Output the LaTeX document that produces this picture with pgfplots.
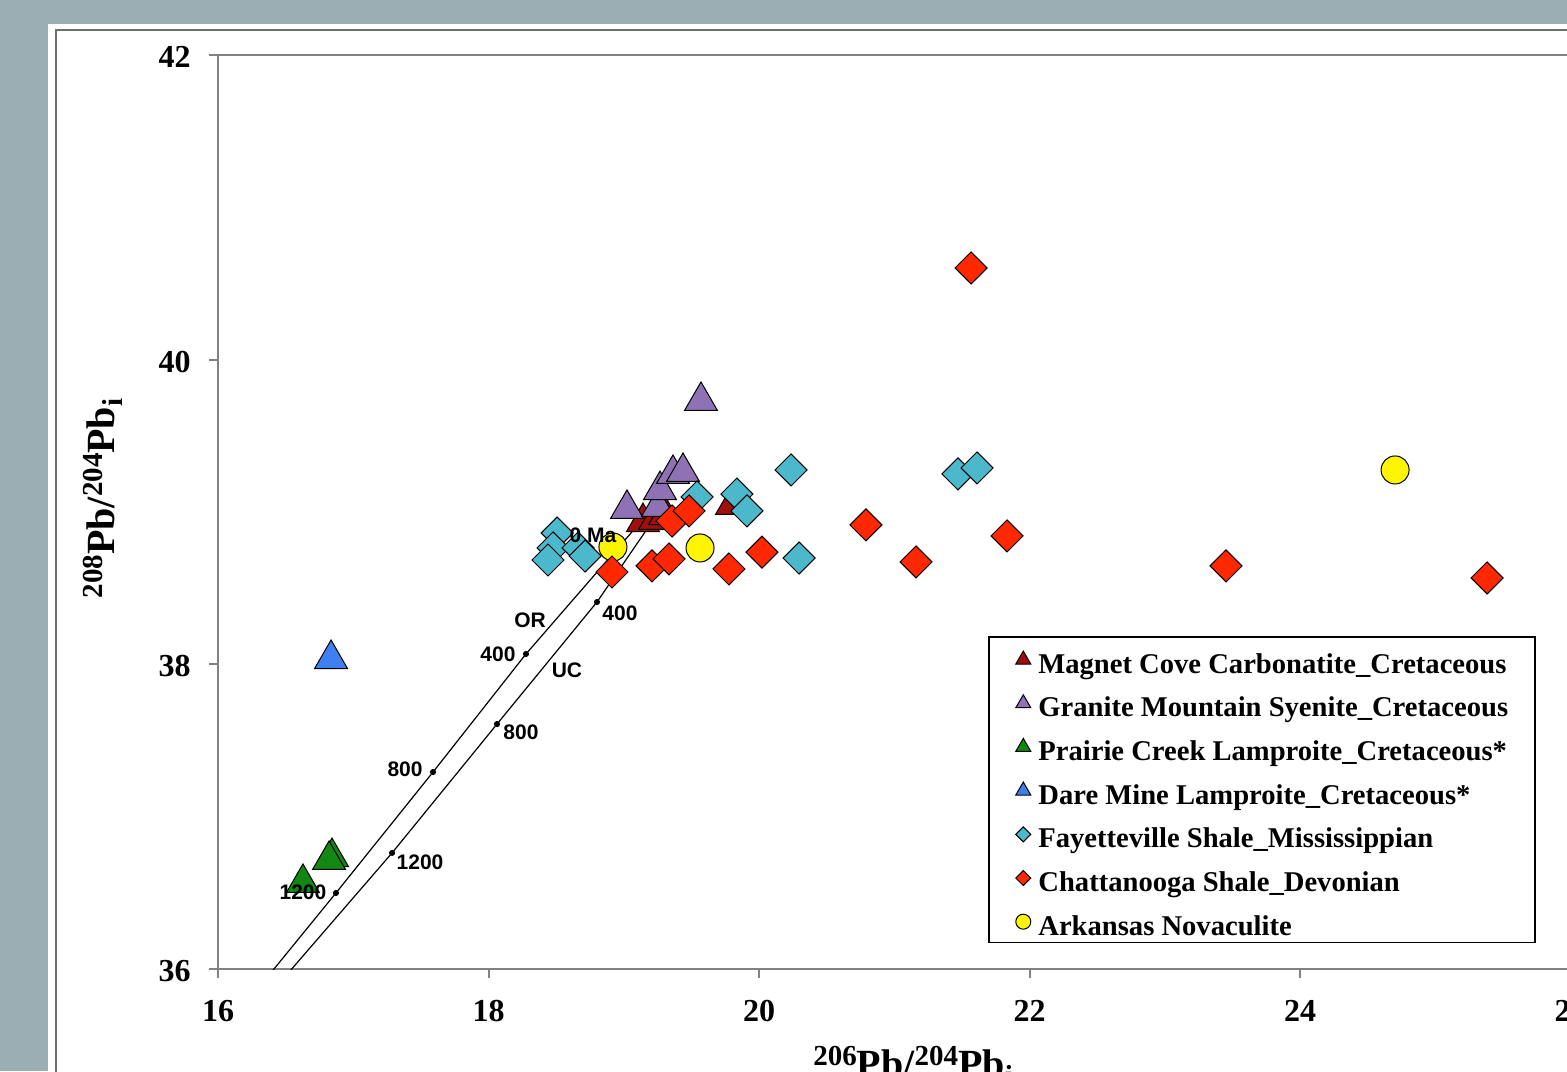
\documentclass[border=0pt]{standalone}
\usepackage{fontspec}
\setmainfont{Liberation Serif}
\newfontfamily\arialfont{Liberation Sans}
\usepackage{pgfplots}
\pgfplotsset{compat=1.18}
\definecolor{bgc}{RGB}{155,174,180}
\definecolor{redd}{RGB}{255,40,0}
\definecolor{cyand}{RGB}{75,184,204}
\definecolor{purp}{RGB}{142,114,180}
\definecolor{dred}{RGB}{160,14,14}
\definecolor{grn}{RGB}{18,135,18}
\definecolor{blu}{RGB}{63,128,240}
\definecolor{yel}{RGB}{255,245,0}
\definecolor{axgray}{RGB}{130,130,130}
\definecolor{framegray}{RGB}{110,110,110}
\newcommand{\sups}[1]{\raisebox{6pt}{\fontsize{14.5}{14.5}\selectfont #1}}
\newcommand{\subs}[1]{\raisebox{-4pt}{\fontsize{14.5}{14.5}\selectfont #1}}
\begin{document}
\begin{tikzpicture}
\useasboundingbox (0,0) rectangle (783.5pt,535.5pt);
\fill[bgc] (0,0) rectangle (783.5pt,535.5pt);
\clip (0,0) rectangle (783.5pt,535.5pt);
\fill[white] (24pt,0) rectangle (783.5pt,523.5pt);
\draw[framegray, line width=1.2pt] (28pt,-2pt) -- (28pt,520.5pt) -- (790pt,520.5pt);
\begin{axis}[
  at={(109pt,51pt)}, anchor=south west,
  scale only axis, width=676.25pt, height=457pt,
  xmin=16, xmax=26, ymin=36, ymax=42,
  xtick={16,18,20,22,24,26}, ytick={36,38,40,42},
  xtick pos=left, ytick pos=left,
  tick align=outside, major tick length=4.5pt,
  tick style={axgray, line width=1pt},
  axis line style={axgray, line width=1pt},
  /pgf/number format/assume math mode=true,
  ticklabel style={font=\fontsize{16}{16}\selectfont\bfseries},
  xticklabel style={anchor=base, yshift=-21.5pt},
  yticklabel style={anchor=east, inner sep=0pt, xshift=-9pt, yshift=-1pt},
  label style={font=\fontsize{20}{22}\selectfont\bfseries},
  xlabel={\sups{206}Pb/\sups{204}Pb\subs{i}},
  ylabel={\sups{208}Pb/\sups{204}Pb\subs{i}},
  xlabel style={at={(axis description cs:0.5139,-0.1182)}, anchor=base},
  ylabel style={at={(axis description cs:-0.0762,0.5148)}, anchor=base},
  legend image code/.code={\draw[#1] plot coordinates {(0pt,-0.5pt)};},
  legend style={at={(0.5693,0.3643)}, anchor=north west, draw=black, line width=0.8pt, fill=white,
    inner xsep=13.5pt, inner ysep=3.2pt, row sep=6.33pt, column sep=3.8pt,
    font=\fontsize{14.3}{16}\selectfont\bfseries,
    nodes={text height=15pt, text depth=0.5pt, inner sep=0pt}},
  legend cell align=left,
]
% model curves (OR, UC)
\addplot[black, line width=0.6pt, forget plot] coordinates {
 (16.30,35.87) (16.414,36.0) (16.872,36.499) (17.59,37.293) (18.277,38.068) (19.12,38.93)};
\addplot[black, line width=0.6pt, forget plot] coordinates {
 (16.43,35.87) (16.545,36.0) (17.287,36.762) (18.063,37.608) (18.802,38.409) (19.22,38.95)};
\addplot[only marks, mark=*, mark size=1.3pt, mark options={fill=black, draw=black}, forget plot] coordinates {
 (16.872,36.499) (17.59,37.293) (18.277,38.068) (17.287,36.762) (18.063,37.608) (18.802,38.409)};
% Magnet Cove
\addplot[only marks, mark=triangle*, mark size=9.5pt, mark options={fill=dred, draw=black, line width=0.5pt}, forget plot] coordinates {
 (19.142,38.934) (19.231,38.948) (19.305,38.98) (19.80,39.046)};
% Granite Mountain
\addplot[only marks, mark=triangle*, mark size=9.5pt, mark options={fill=purp, draw=black, line width=0.5pt}, forget plot] coordinates {
 (19.024,39.02) (19.253,39.033) (19.268,39.144) (19.364,39.25) (19.438,39.263) (19.571,39.729)};
% Prairie Creek
\addplot[only marks, mark=triangle*, mark size=9.5pt, mark options={fill=grn, draw=black, line width=0.5pt}, forget plot] coordinates {
 (16.628,36.565) (16.843,36.735) (16.821,36.716)};
% Dare Mine
\addplot[only marks, mark=triangle*, mark size=9.5pt, mark options={fill=blu, draw=black, line width=0.5pt}, forget plot] coordinates {
 (16.836,38.035)};
% Fayetteville
\addplot[only marks, mark=square*, mark size=5.66pt, mark options={rotate=45, fill=cyand, draw=black, line width=0.5pt}, forget plot] coordinates {
 (18.507,38.862) (18.477,38.764) (18.44,38.685) (18.662,38.764) (18.714,38.711)
 (19.542,39.099) (19.837,39.118) (19.911,39.007) (20.237,39.276) (20.296,38.698)
 (21.471,39.25) (21.612,39.289)};
% Arkansas Novaculite
\addplot[only marks, mark=*, mark size=7pt, mark options={fill=yel, draw=black, line width=0.5pt}, forget plot] coordinates {
 (18.92,38.77) (19.564,38.764) (24.703,39.276)};
% Chattanooga
\addplot[only marks, mark=square*, mark size=5.66pt, mark options={rotate=45, fill=redd, draw=black, line width=0.5pt}, forget plot] coordinates {
 (18.913,38.606) (19.209,38.646) (19.335,38.692) (19.357,38.941) (19.483,39.007)
 (19.778,38.626) (20.022,38.737) (20.791,38.915) (21.161,38.672) (21.568,40.602)
 (21.834,38.843) (23.453,38.646) (25.383,38.567)};
% positions of curve labels
\coordinate (lOR) at (18.307,38.291);
\coordinate (lOR4) at (18.07,38.068);
\coordinate (lOR8) at (17.383,37.313);
\coordinate (lOR12) at (16.628,36.505);
\coordinate (lUC) at (18.58,37.963);
\coordinate (lUC4) at (18.972,38.337);
\coordinate (lUC8) at (18.24,37.556);
\coordinate (lUC12) at (17.494,36.702);
\coordinate (l0) at (18.773,38.849);
% legend
\addlegendimage{only marks, mark=triangle*, mark size=4.33pt, mark options={fill=dred, draw=black, line width=0.5pt}}
\addlegendentry{Magnet Cove Carbonatite\_Cretaceous}
\addlegendimage{only marks, mark=triangle*, mark size=4.33pt, mark options={fill=purp, draw=black, line width=0.5pt}}
\addlegendentry{Granite Mountain Syenite\_Cretaceous}
\addlegendimage{only marks, mark=triangle*, mark size=4.33pt, mark options={fill=grn, draw=black, line width=0.5pt}}
\addlegendentry{Prairie Creek Lamproite\_Cretaceous*}
\addlegendimage{only marks, mark=triangle*, mark size=4.33pt, mark options={fill=blu, draw=black, line width=0.5pt}}
\addlegendentry{Dare Mine Lamproite\_Cretaceous*}
\addlegendimage{only marks, mark=square*, mark size=2.65pt, mark options={rotate=45, fill=cyand, draw=black, line width=0.5pt}}
\addlegendentry{Fayetteville Shale\_Mississippian}
\addlegendimage{only marks, mark=square*, mark size=2.65pt, mark options={rotate=45, fill=redd, draw=black, line width=0.5pt}}
\addlegendentry{Chattanooga Shale\_Devonian}
\addlegendimage{only marks, mark=*, mark size=3.75pt, mark options={fill=yel, draw=black, line width=0.5pt}}
\addlegendentry{Arkansas Novaculite}
\end{axis}
\begin{scope}[every node/.style={font=\fontsize{10.5}{12}\arialfont\bfseries, inner sep=0pt}]
\node at (lOR) {OR};
\node at (lOR4) {400};
\node at (lOR8) {800};
\node at (lOR12) {1200};
\node at (lUC) {UC};
\node at (lUC4) {400};
\node at (lUC8) {800};
\node at (lUC12) {1200};
\node at (l0) {0 Ma};
\end{scope}
\end{tikzpicture}
\end{document}
